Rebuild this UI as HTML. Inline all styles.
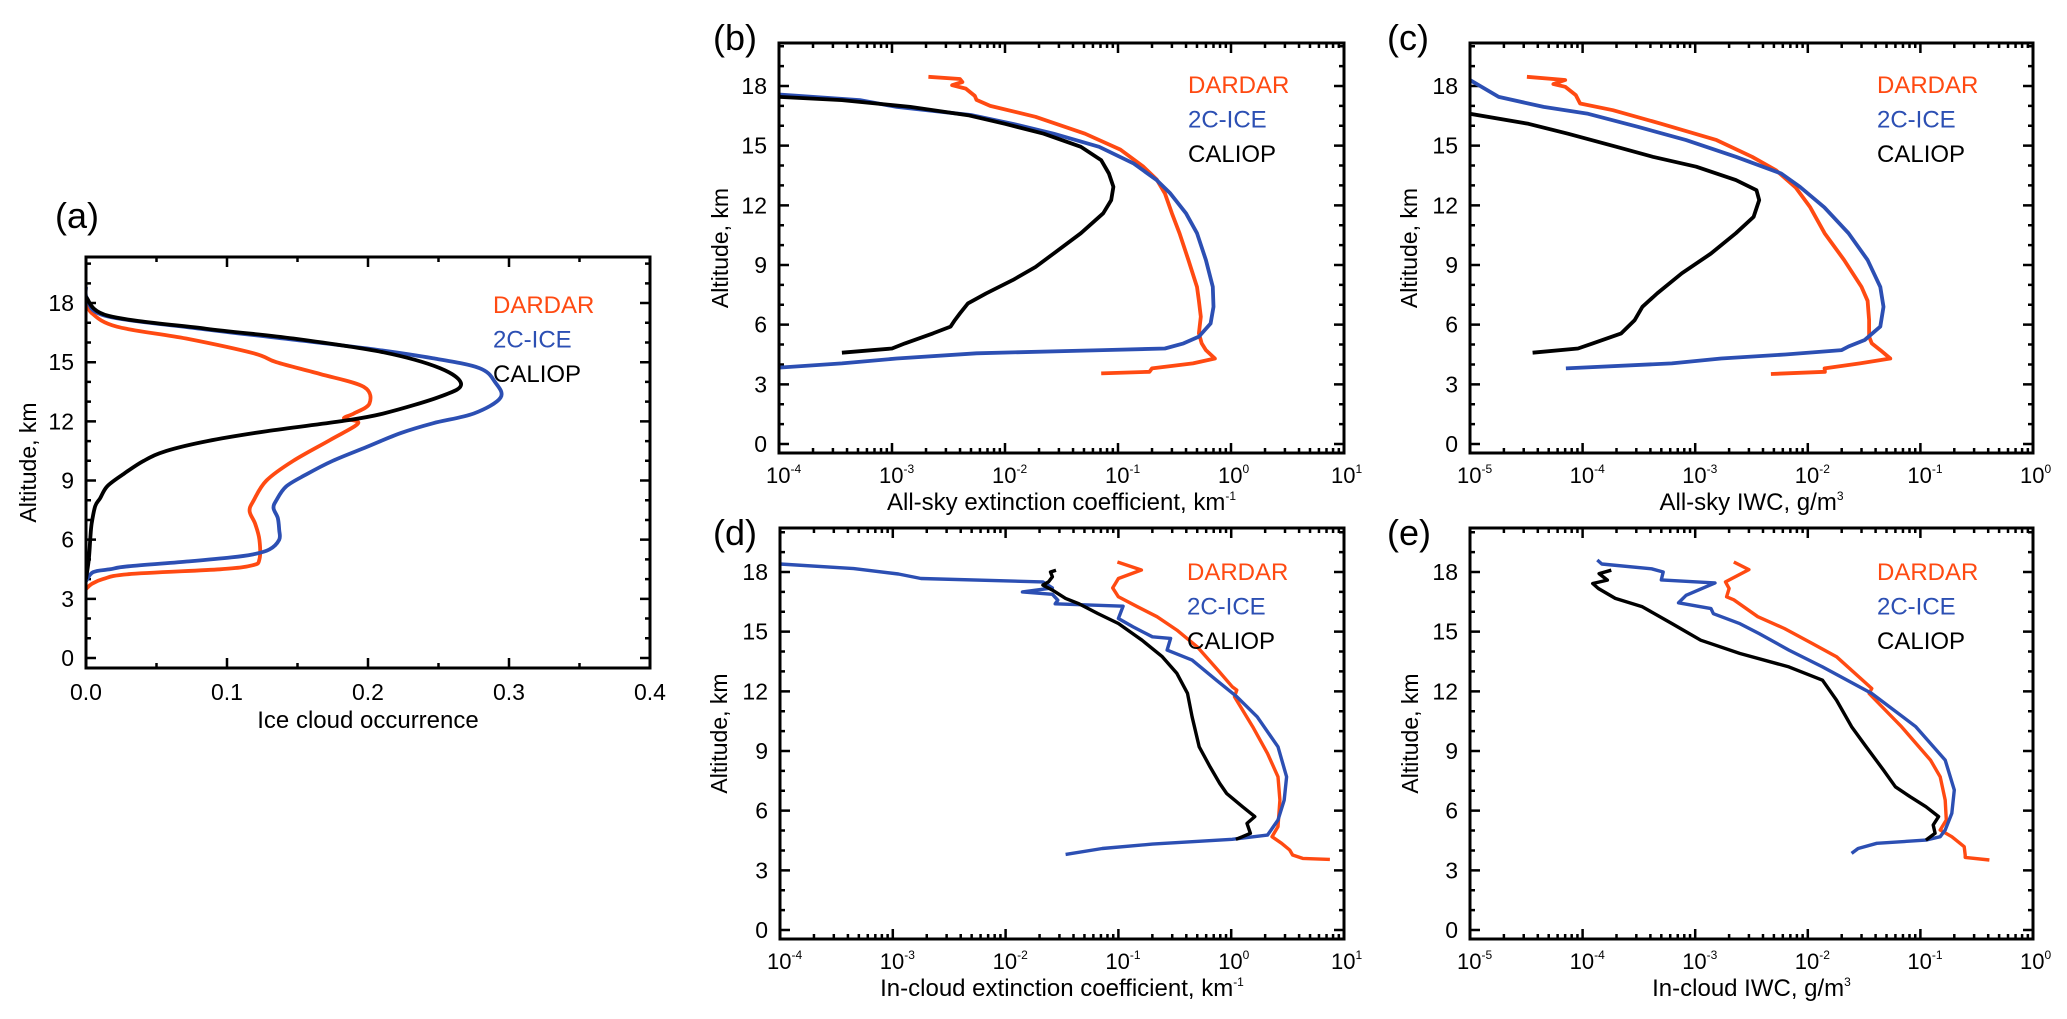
<!DOCTYPE html>
<html><head><meta charset="utf-8"><style>
html,body{margin:0;padding:0;background:#fff}
svg{display:block}
text{font-family:"Liberation Sans",sans-serif}
</style></head><body>
<svg id="fig" width="2067" height="1019" viewBox="0 0 2067 1019" xmlns="http://www.w3.org/2000/svg"></svg>
<script>
// ---------- DATA (altitude km / value) ----------
// Panel (a) ice cloud occurrence
const aDardarAlt=[3.5,3.75,4.0,4.25,4.5,4.7,5.0,6.0,6.8,7.45,8.0,9.0,10.0,11.05,11.9,12.15,12.4,12.9,13.75,14.4,15.0,15.45,16.2,16.8,17.5,18.2];
const aDardarVal=[0,0.004,0.012,0.03,0.095,0.118,0.123,0.123,0.12,0.116,0.119,0.128,0.147,0.173,0.193,0.183,0.19,0.201,0.197,0.166,0.135,0.119,0.071,0.022,0.004,0];
const aIceAlt=[3.9,4.35,4.5,4.65,4.9,5.1,5.25,5.5,6.0,6.5,7.1,7.6,8.0,8.7,9.3,10.0,10.7,11.4,11.9,12.4,13.2,14.0,14.7,15.2,15.7,16.2,16.7,17.35,18.2,18.8];
const aIceVal=[0,0.005,0.017,0.03,0.073,0.103,0.118,0.13,0.137,0.137,0.136,0.133,0.135,0.142,0.156,0.175,0.199,0.223,0.246,0.275,0.294,0.29,0.279,0.246,0.199,0.14,0.081,0.014,0.001,0];
const aCalAlt=[4.0,5.0,6.0,6.8,7.7,8.1,8.7,9.3,10.0,10.5,11.0,11.5,12.0,12.4,13.3,13.9,14.7,15.5,16.2,16.7,17.35,18.3];
const aCalVal=[0,0.002,0.003,0.004,0.0065,0.01,0.015,0.026,0.041,0.057,0.086,0.128,0.18,0.211,0.253,0.266,0.251,0.211,0.147,0.085,0.016,0];
// Panel (b) all-sky extinction
const bDardarAlt=[3.55,3.63,3.8,4.05,4.3,4.72,5.06,5.56,6.4,7.2,7.9,9.25,10.6,11.6,12.6,13.3,13.96,14.8,15.6,16.45,17.0,17.3,17.5,17.87,18.04,18.2,18.35,18.46];
const bDardarVal=[0.071,0.19,0.2,0.46,0.72,0.6,0.55,0.52,0.54,0.52,0.5,0.42,0.35,0.3,0.26,0.22,0.166,0.105,0.051,0.0186,0.0074,0.0056,0.0054,0.0045,0.0034,0.0042,0.004,0.0021];
const bIceAlt=[3.84,4.05,4.3,4.56,4.72,4.8,5.06,5.4,6.06,6.9,7.9,9.25,10.6,11.6,12.6,13.27,14.1,14.94,15.6,16.1,16.53,16.95,17.29,17.57];
const bIceVal=[1e-4,3.6e-4,1.1e-3,5.6e-3,0.074,0.26,0.38,0.52,0.66,0.7,0.69,0.6,0.5,0.4,0.29,0.22,0.138,0.068,0.027,0.0117,5.1e-3,1.1e-3,5.2e-4,1e-4];
const bCalAlt=[4.59,4.8,5.06,5.56,5.9,6.23,6.57,7.07,7.57,8.24,8.9,9.58,10.6,11.6,12.26,12.93,13.6,14.27,14.94,15.6,16.1,16.53,16.95,17.29,17.45];
const bCalVal=[3.6e-4,1e-3,1.3e-3,2.3e-3,3.3e-3,3.6e-3,4e-3,4.7e-3,6.8e-3,0.0117,0.0186,0.027,0.047,0.074,0.087,0.091,0.083,0.071,0.047,0.022,0.01,4.7e-3,1.45e-3,3.6e-4,1e-4];
// Panel (c) all-sky IWC
const cDardarAlt=[3.52,3.63,3.8,4.05,4.3,4.72,5.06,5.4,6.23,7.2,7.9,9.25,10.6,11.9,12.9,13.77,14.44,15.28,16.1,16.78,17.12,17.54,17.96,18.1,18.3,18.46];
const cDardarVal=[0.0047,0.0142,0.0141,0.029,0.054,0.044,0.037,0.035,0.035,0.034,0.03,0.021,0.0141,0.0105,0.0078,0.0052,0.0032,0.00155,5e-4,1.86e-4,9.5e-5,8.7e-5,7e-5,5.5e-5,7e-5,3.2e-5];
const cIceAlt=[3.8,4.05,4.3,4.5,4.72,4.9,5.23,5.9,6.9,7.9,9.25,10.6,11.9,12.93,13.6,14.44,15.28,15.95,16.6,16.95,17.45,18.3];
const cIceVal=[7.1e-5,6.2e-4,1.7e-3,6.3e-3,0.02,0.023,0.032,0.044,0.047,0.044,0.034,0.023,0.014,0.0085,0.0058,0.0023,8.3e-4,3.1e-4,1.12e-4,4.5e-5,1.8e-5,1e-5];
const cCalAlt=[4.59,4.8,5.06,5.56,6.23,6.9,7.57,8.58,9.58,10.6,11.42,12.26,12.76,13.27,13.94,14.44,14.94,15.6,16.1,16.6];
const cCalVal=[3.6e-5,9.1e-5,1.23e-4,2.2e-4,2.9e-4,3.4e-4,4.6e-4,7.6e-4,1.38e-3,2.3e-3,3.3e-3,3.7e-3,3.5e-3,2.3e-3,1.02e-3,4.2e-4,2e-4,7.4e-5,3.3e-5,1e-5];
// Panel (d) in-cloud extinction
const dDardarAlt=[3.55,3.6,3.77,4.02,4.36,4.69,5.2,6.53,7.7,8.88,10.22,11.73,12.06,12.23,13.07,14.24,15.08,15.75,16.25,16.75,17.2,17.42,17.67,18.1,18.5];
const dDardarVal=[7.5,4.3,3.5,3.3,2.8,2.3,2.6,2.7,2.6,2.1,1.55,1.07,1.12,1.02,0.76,0.5,0.33,0.22,0.148,0.1,0.089,0.094,0.1,0.16,0.098];
const dIceAlt=[3.8,4.1,4.32,4.56,4.77,5.53,6.53,7.7,9.21,10.72,11.73,12.56,13.57,14.07,14.66,14.74,15.24,15.66,16.28,16.4,16.58,16.88,17.0,17.2,17.5,17.67,17.9,18.17,18.4];
const dIceVal=[0.034,0.072,0.2,1.02,2.1,2.6,2.95,3.1,2.6,1.7,1.12,0.74,0.45,0.27,0.29,0.2,0.135,0.1,0.11,0.0275,0.029,0.026,0.0141,0.026,0.0214,0.00178,0.00112,4.5e-4,1e-4];
const dCalAlt=[4.56,4.69,4.86,5.36,5.7,6.2,6.87,7.37,8.2,9.21,10.72,11.9,12.9,13.74,14.57,15.41,15.91,16.42,16.67,17.09,17.34,17.5,17.76,18.0,18.09];
const dCalVal=[1.1,1.26,1.48,1.38,1.62,1.26,0.91,0.79,0.65,0.52,0.45,0.41,0.33,0.245,0.162,0.1,0.066,0.044,0.034,0.026,0.0214,0.024,0.026,0.025,0.028];
// Panel (e) in-cloud IWC
const eDardarAlt=[3.52,3.65,3.77,4.19,4.69,5.03,5.53,6.53,7.7,8.54,10.22,11.89,12.14,13.74,14.4,15.16,15.75,16.6,16.75,17.17,17.5,18.12,18.5];
const eDardarVal=[0.41,0.25,0.25,0.245,0.19,0.15,0.17,0.166,0.15,0.123,0.068,0.035,0.037,0.018,0.011,6.2e-3,3.6e-3,2.2e-3,1.9e-3,2e-3,1.86e-3,3e-3,2.2e-3];
const eIceAlt=[3.85,4.1,4.36,4.52,4.69,5.03,5.86,7.04,8.54,10.22,11.89,13.23,14.07,14.9,15.4,15.9,16.16,16.45,16.83,17.45,17.6,18.0,18.16,18.4,18.6];
const eIceVal=[0.0245,0.028,0.041,0.112,0.15,0.166,0.19,0.2,0.166,0.091,0.037,0.0135,6.8e-3,3.7e-3,2.5e-3,1.45e-3,1.38e-3,7.1e-4,8.3e-4,1.5e-3,5e-4,5.2e-4,4.1e-4,1.48e-4,1.35e-4];
const eCalAlt=[4.52,4.86,5.28,5.7,6.2,6.7,7.2,8.04,9.21,10.22,11.56,12.56,13.23,13.9,14.57,15.41,16.25,16.67,17.17,17.42,17.59,17.92,18.09];
const eCalVal=[0.112,0.135,0.13,0.145,0.112,0.081,0.06,0.047,0.033,0.0245,0.018,0.0135,6.8e-3,2.5e-3,1.12e-3,6.2e-4,3.4e-4,1.95e-4,1.38e-4,1.23e-4,1.66e-4,1.4e-4,1.8e-4];
// axis tick labels
const altTicks=[0,3,6,9,12,15,18];
const occTicks=[0.0,0.1,0.2,0.3,0.4];
const occTickLabels=["0.0","0.1","0.2","0.3","0.4"];
const extExps=[-4,-3,-2,-1,0,1];
const iwcExps=[-5,-4,-3,-2,-1,0];
const seriesNames=["DARDAR","2C-ICE","CALIOP"];

// ---------- DRAWING ----------
const NS="http://www.w3.org/2000/svg";
const svg=document.getElementById('fig');
const ORANGE="#ff4a12", BLUE="#2c4fb3", BLACK="#000";
function mk(tag,attrs,parent){const e=document.createElementNS(NS,tag);for(const k in attrs)e.setAttribute(k,attrs[k]);(parent||svg).appendChild(e);return e;}
function smoothPath(P){
  let d=`M${P[0][0].toFixed(1)} ${P[0][1].toFixed(1)}`;
  for(let i=0;i<P.length-1;i++){
    const p0=P[Math.max(0,i-1)],p1=P[i],p2=P[i+1],p3=P[Math.min(P.length-1,i+2)];
    const c1x=p1[0]+(p2[0]-p0[0])/6,c1y=p1[1]+(p2[1]-p0[1])/6;
    const c2x=p2[0]-(p3[0]-p1[0])/6,c2y=p2[1]-(p3[1]-p1[1])/6;
    d+=`C${c1x.toFixed(1)} ${c1y.toFixed(1)} ${c2x.toFixed(1)} ${c2y.toFixed(1)} ${p2[0].toFixed(1)} ${p2[1].toFixed(1)}`;
  }
  return d;
}

function panel(p){
  const g=mk('g',{});
  
  
  const yPix=km=>p.y0-km*p.k;
  const xPix=p.log?(v=>p.left+(Math.log10(v)-p.lmin)*(p.right-p.left)/(p.lmax-p.lmin))
                   :(v=>p.left+(v-p.xmin)*(p.right-p.left)/(p.xmax-p.xmin));
  const cid='clip-'+p.id;
  const cp=mk('clipPath',{id:cid},g);mk('rect',{x:p.left,y:p.top,width:p.right-p.left,height:p.bottom-p.top},cp);
  let d='';
  const maxKm=(p.y0-p.top)/p.k;
  for(let km=0;km<=maxKm;km++){const y=yPix(km);const L=(km%3===0&&km<=18)?10:5;
    d+=`M${p.left} ${y}h${L}M${p.right} ${y}h${-L}`;}
  if(p.log){for(let e=p.lmin;e<=p.lmax;e++){for(let m=1;m<=9;m++){if(e===p.lmax&&m>1)break;const x=xPix(m*Math.pow(10,e));const L=m===1?10:5;
      d+=`M${x} ${p.bottom}v${-L}M${x} ${p.top}v${L}`;}}}
  else{for(let v=0;v<=0.4001;v+=0.05){const x=xPix(v);const L=(Math.round(v*100)%10===0)?10:5;d+=`M${x} ${p.bottom}v${-L}M${x} ${p.top}v${L}`;}}
  const tk=mk('path',{d:d,stroke:'#000','stroke-width':2.5,fill:'none'},g);
  
  
  p.series.forEach((s,i)=>{
    const P=s.alt.map((a,j)=>[xPix(s.val[j]),yPix(a)]);
    let el;
    if(p.smooth){
      el=mk('path',{d:smoothPath(P),fill:'none',stroke:s.color,'stroke-width':p.lw,'stroke-linejoin':'round','clip-path':`url(#${cid})`},g);
    }else{
      el=mk('polyline',{points:P.map(q=>q[0].toFixed(1)+','+q[1].toFixed(1)).join(' '),fill:'none',stroke:s.color,'stroke-width':p.lw,'stroke-linejoin':'round','clip-path':`url(#${cid})`},g);
    }
    
    
  });
  const fr=mk('rect',{x:p.left,y:p.top,width:p.right-p.left,height:p.bottom-p.top,fill:'none',stroke:'#000','stroke-width':3},g);
  
  
  altTicks.forEach(t=>{const tx=mk('text',{x:p.left-12,y:yPix(t)+8,'text-anchor':'end','font-size':23},g);tx.textContent=t;
    
    });
  if(p.log){p.exps.forEach(e=>{const x=xPix(Math.pow(10,e));const tx=mk('text',{x:x-13,y:p.bottom+30,'font-size':22},g);
      tx.textContent='10';const sp=mk('tspan',{dy:-10,'font-size':12},tx);sp.textContent=String(e);
      
      });}
  else{occTicks.forEach((v,i)=>{const tx=mk('text',{x:xPix(v),y:p.bottom+32,'text-anchor':'middle','font-size':23},g);tx.textContent=occTickLabels[i];
      
      });}
  const xt=mk('text',{x:(p.left+p.right)/2,y:p.bottom+p.titleDy,'text-anchor':'middle','font-size':24},g);
  xt.textContent=p.xtitle;
  if(p.xsup){const sp=mk('tspan',{dy:-10,'font-size':12},xt);sp.textContent=p.xsup;}
  
  
  const yc=(p.top+p.bottom)/2;
  const yt=mk('text',{x:p.ytx,y:yc,'text-anchor':'middle','font-size':23,transform:`rotate(-90 ${p.ytx} ${yc})`},g);
  yt.textContent='Altitude, km';
  
  
  const pt=mk('text',{x:p.lx,y:p.ly,'font-size':36},g);pt.textContent='('+p.id+')';
  
  
  p.series.forEach((s,i)=>{const t=mk('text',{x:p.legx,y:p.legy+i*34.5,'font-size':24,fill:s.color},g);t.textContent=s.name;
    
    });
}
function ser(alt1,val1,alt2,val2,alt3,val3){return [
  {name:seriesNames[0],color:ORANGE,alt:alt1,val:val1},
  {name:seriesNames[1],color:BLUE,alt:alt2,val:val2},
  {name:seriesNames[2],color:BLACK,alt:alt3,val:val3}];}

panel({id:'a',left:86,right:650,top:257,bottom:668,y0:658,k:19.72,log:false,xmin:0,xmax:0.4,smooth:true,lw:3.8,
  series:ser(aDardarAlt,aDardarVal,aIceAlt,aIceVal,aCalAlt,aCalVal),
  xtitle:'Ice cloud occurrence',titleDy:60,ytx:36,lx:55,ly:228,legx:493,legy:313});
panel({id:'b',left:779,right:1344,top:43,bottom:453,y0:444,k:19.89,log:true,lmin:-4,lmax:1,exps:extExps,lw:3.8,
  series:ser(bDardarAlt,bDardarVal,bIceAlt,bIceVal,bCalAlt,bCalVal),
  xtitle:'All-sky extinction coefficient, km',xsup:'-1',titleDy:57,ytx:728,lx:713,ly:50,legx:1188,legy:93});
panel({id:'c',left:1470,right:2033,top:43,bottom:453,y0:444,k:19.89,log:true,lmin:-5,lmax:0,exps:iwcExps,lw:3.8,
  series:ser(cDardarAlt,cDardarVal,cIceAlt,cIceVal,cCalAlt,cCalVal),
  xtitle:'All-sky IWC, g/m',xsup:'3',titleDy:57,ytx:1417,lx:1387,ly:50,legx:1877,legy:93});
panel({id:'d',left:780,right:1344,top:528,bottom:939,y0:930,k:19.89,log:true,lmin:-4,lmax:1,exps:extExps,lw:3.4,
  series:ser(dDardarAlt,dDardarVal,dIceAlt,dIceVal,dCalAlt,dCalVal),
  xtitle:'In-cloud extinction coefficient, km',xsup:'-1',titleDy:57,ytx:727,lx:713,ly:545,legx:1187,legy:580});
panel({id:'e',left:1470,right:2033,top:528,bottom:939,y0:930,k:19.89,log:true,lmin:-5,lmax:0,exps:iwcExps,lw:3.4,
  series:ser(eDardarAlt,eDardarVal,eIceAlt,eIceVal,eCalAlt,eCalVal),
  xtitle:'In-cloud IWC, g/m',xsup:'3',titleDy:57,ytx:1418,lx:1387,ly:545,legx:1877,legy:580});
</script>
</body></html>
